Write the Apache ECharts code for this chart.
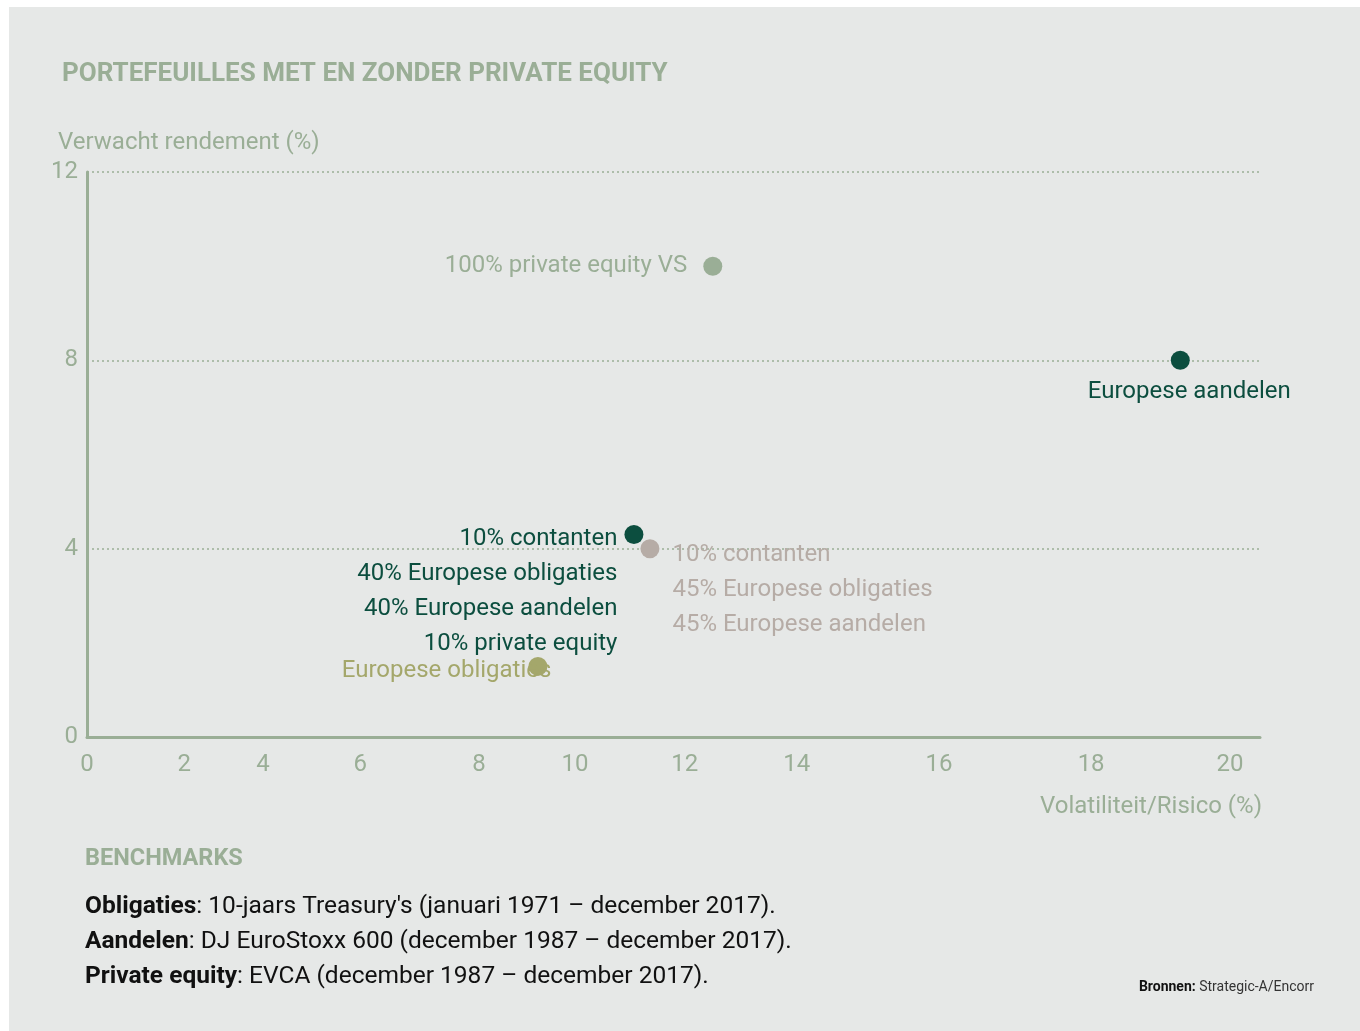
<!DOCTYPE html>
<html>
<head>
<meta charset="utf-8">
<script src="https://cdn.jsdelivr.net/npm/echarts@6/dist/echarts.min.js"></script>
<style>
  html, body { margin: 0; padding: 0; background: #ffffff; }
  #chart { width: 1360px; height: 1031px; }
</style>
</head>
<body>
<div id="chart"></div>
<script>
// ---- data ----
var yTickLabels = ['0', '4', '8', '12'];
var xTickLabels = ['0', '2', '4', '6', '8', '10', '12', '14', '16', '18', '20'];
// where each x tick label sits on the (linear) horizontal axis
var xTickAt = [0, 1.7, 3.08, 4.78, 6.86, 8.54, 10.46, 12.42, 14.91, 17.57, 20.0];

var pointNames = [
  'Europese aandelen',
  '100% private equity VS',
  '10% contanten\n40% Europese obligaties\n40% Europese aandelen\n10% private equity',
  '10% contanten\n45% Europese obligaties\n45% Europese aandelen',
  'Europese obligaties'
];
var pointX = [19.13, 10.95, 9.57, 9.85, 7.89];   // volatiliteit (axis units)
var pointY = [8.0, 10.0, 4.3, 4.0, 1.5];         // verwacht rendement (%)

var benchmarkLines = [
  ['Obligaties', ": 10-jaars Treasury's (januari 1971 \u2013 december 2017)."],
  ['Aandelen', ': DJ EuroStoxx 600 (december 1987 \u2013 december 2017).'],
  ['Private equity', ': EVCA (december 1987 \u2013 december 2017).']
];

// ---- styles ----
var SAGE = '#9aae96';
var DARK = '#0c4e3f';
var GREY = '#b6aca6';
var OLIVE = '#a4a76b';
var FONT = '"Liberation Sans Narrow", "Roboto", sans-serif';

var colors = [DARK, SAGE, DARK, GREY, OLIVE];
var labelCfg = [
  { position: 'bottom', distance: 5, offset: [9, 0], align: 'center' },
  { position: 'left', distance: 16, offset: [0, 0], align: 'right' },
  { position: 'left', distance: 7, offset: [0, 57], align: 'right' },
  { position: 'right', distance: 13, offset: [0, 41], align: 'left' },
  { position: 'left', distance: -23, offset: [0, 5], align: 'right' }
];

var series = pointNames.map(function (name, i) {
  return {
    type: 'scatter',
    name: name,
    symbolSize: 19,
    z: 5,
    itemStyle: { color: colors[i], opacity: 1 },
    label: {
      show: true,
      formatter: name,
      position: labelCfg[i].position,
      distance: labelCfg[i].distance,
      offset: labelCfg[i].offset,
      align: labelCfg[i].align,
      color: colors[i],
      fontFamily: FONT,
      fontSize: 24,
      lineHeight: 35
    },
    data: [[pointX[i], pointY[i]]]
  };
});

var graphics = [
  { type: 'rect', z: -10, silent: true, shape: { x: 9, y: 7, width: 1351, height: 1024 }, style: { fill: '#e6e8e7' } },
  { type: 'text', left: 62, top: 61, style: { text: 'PORTEFEUILLES MET EN ZONDER PRIVATE EQUITY', fill: SAGE, font: 'bold 26px ' + FONT } },
  { type: 'text', left: 58, top: 131, style: { text: 'Verwacht rendement (%)', fill: SAGE, font: '24px ' + FONT } },
  { type: 'text', right: 98, top: 795, style: { text: 'Volatiliteit/Risico (%)', fill: SAGE, font: '24px ' + FONT } },
  { type: 'text', left: 85, top: 847, style: { text: 'BENCHMARKS', fill: SAGE, font: 'bold 23.5px ' + FONT } },
  { type: 'text', right: 46, top: 980, style: { text: '{b|Bronnen:} Strategic-A/Encorr', fill: '#333', font: '14px ' + FONT,
      rich: { b: { fontWeight: 'bold', fontFamily: FONT, fontSize: 14, fill: '#111' } } } }
];
benchmarkLines.forEach(function (ln, i) {
  graphics.push({
    type: 'text', left: 85, top: 894 + i * 35,
    style: {
      text: '{b|' + ln[0] + '}' + ln[1],
      fill: '#111', font: '24.5px ' + FONT,
      rich: { b: { fontWeight: 'bold', fontFamily: FONT, fontSize: 24.5, fill: '#111' } }
    }
  });
});

var chart = echarts.init(document.getElementById('chart'), null, { renderer: 'canvas' });
chart.setOption({
  backgroundColor: '#ffffff',
  animation: false,
  grid: { left: 87, right: 100, top: 172, bottom: 294 },
  xAxis: {
    type: 'value',
    min: 0,
    max: 20.525,
    axisLine: { show: true, lineStyle: { color: SAGE, width: 3 } },
    axisTick: { show: false },
    splitLine: { show: false },
    axisLabel: {
      customValues: xTickAt,
      formatter: function (v) {
        var best = 0;
        for (var k = 1; k < xTickAt.length; k++) {
          if (Math.abs(xTickAt[k] - v) < Math.abs(xTickAt[best] - v)) best = k;
        }
        return xTickLabels[best];
      },
      color: SAGE, fontFamily: FONT, fontSize: 24, margin: 16,
      showMinLabel: true, showMaxLabel: true
    }
  },
  yAxis: {
    type: 'value',
    min: 0,
    max: 12,
    interval: 4,
    axisLine: { show: true, lineStyle: { color: SAGE, width: 3 } },
    axisTick: { show: false },
    splitLine: { show: true, lineStyle: { color: SAGE, width: 1.5, type: [2, 3] } },
    axisLabel: {
      formatter: function (v) { return yTickLabels[Math.round(v / 4)]; },
      color: SAGE, fontFamily: FONT, fontSize: 24, margin: 9
    }
  },
  graphic: graphics,
  series: series
});
</script>
</body>
</html>
